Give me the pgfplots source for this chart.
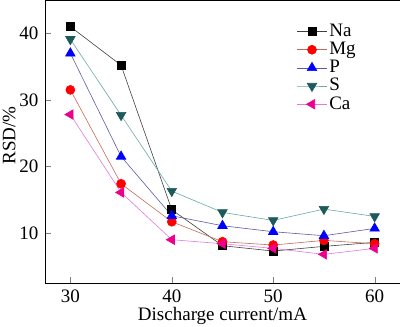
\documentclass[border=0pt]{standalone}
\usepackage{pgfplots}
\pgfplotsset{compat=1.18}
\usepackage{fontspec}
\setmainfont{Liberation Serif}
\definecolor{sdark}{HTML}{1E5A5A}
\definecolor{sline}{HTML}{6AA8A8}
\definecolor{naline}{HTML}{404040}
\definecolor{mgline}{HTML}{C86A5A}
\definecolor{pline}{HTML}{5A5AAA}
\definecolor{caline}{HTML}{E07AE0}
\begin{document}
\fontsize{19}{22}\selectfont
\begin{tikzpicture}
\useasboundingbox (-45pt,-44pt) rectangle (355pt,283pt);
\begin{axis}[
  at={(0,0)}, anchor=south west,
  scale only axis, width=355pt, height=283pt,
  xmin=27.5, xmax=62.5, ymin=2.5, ymax=45,
  xtick={30,40,50,60}, ytick={10,20,30,40},
  tick align=inside, major tick length=6pt,
  xtick pos=left, ytick pos=left,
  /pgf/number format/assume math mode=true,
  tick label style={font=\fontsize{19}{22}\selectfont},
  label style={font=\fontsize{19}{22}\selectfont},
  xlabel={Discharge current/mA}, ylabel={RSD/\%},
  xlabel style={yshift=8pt}, ylabel style={yshift=-9pt, xshift=6pt},
  legend style={draw=none, fill=none, at={(0.70,0.93)}, anchor=north west,
    font=\fontsize{19}{21}\selectfont, row sep=-1.2pt},
  legend cell align=left,
  legend image code/.code={\draw[mark repeat=2,mark phase=2] plot coordinates {(0pt,0pt)(15pt,0pt)(30pt,0pt)};},
  every axis plot/.append style={line width=0.6pt},
]
\addplot[naline, mark=square*, mark size=4pt, mark options={fill=black, draw=black}]
 coordinates {(30,41.0)(35,35.2)(40,13.5)(45,8.1)(50,7.3)(55,8.0)(60,8.6)};
\addlegendentry{Na}
\addplot[mgline, mark=*, mark size=4.5pt, mark options={fill=red, draw=red}]
 coordinates {(30,31.5)(35,17.4)(40,11.7)(45,8.7)(50,8.2)(55,8.9)(60,8.4)};
\addlegendentry{Mg}
\addplot[pline, mark=triangle*, mark size=5.5pt, mark options={fill=blue, draw=blue}]
 coordinates {(30,37.0)(35,21.5)(40,12.6)(45,11.1)(50,10.2)(55,9.6)(60,10.7)};
\addlegendentry{P}
\addplot[sline, mark=triangle*, mark size=5.5pt, mark options={fill=sdark, draw=sdark, rotate=180}]
 coordinates {(30,39.1)(35,27.7)(40,16.3)(45,13.1)(50,11.9)(55,13.6)(60,12.5)};
\addlegendentry{S}
\addplot[caline, mark=triangle*, mark size=5.5pt, mark options={fill=magenta, draw=magenta, rotate=90}]
 coordinates {(30,27.8)(35,16.1)(40,9.0)(45,8.4)(50,7.7)(55,6.8)(60,7.7)};
\addlegendentry{Ca}
\end{axis}
\end{tikzpicture}
\end{document}
